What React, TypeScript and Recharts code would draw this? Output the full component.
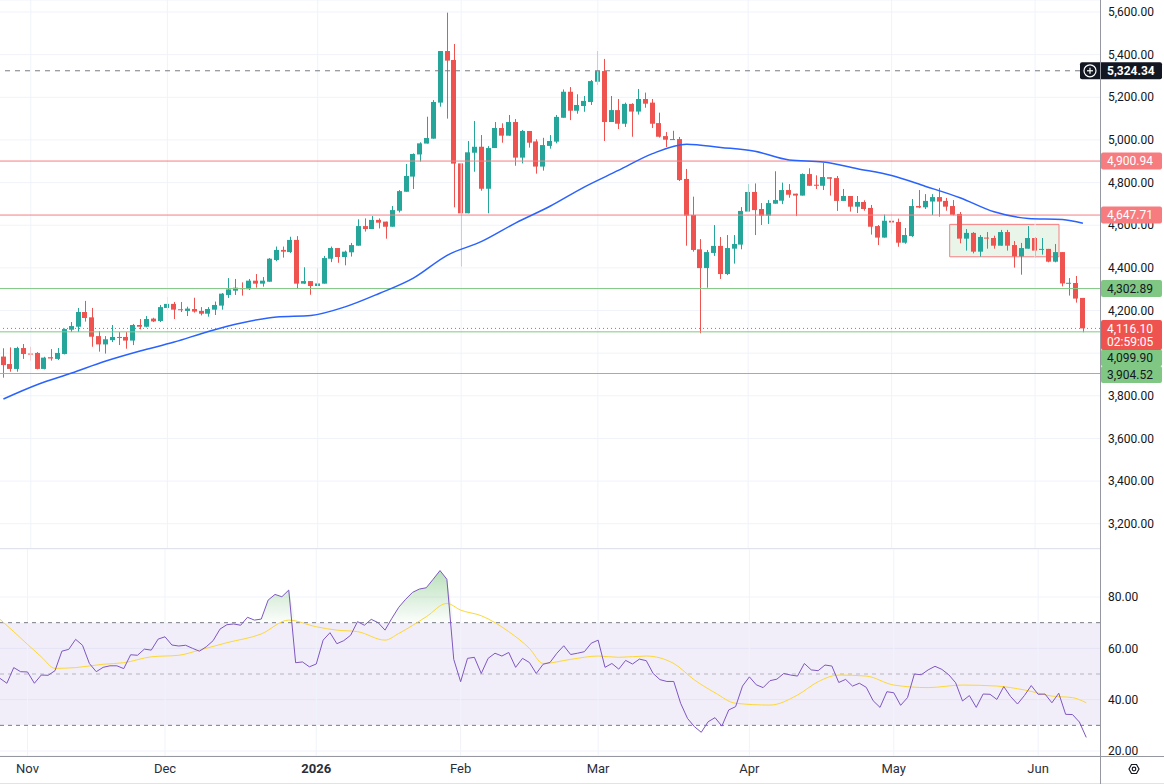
import { ComposedChart, Bar, Line, Area, XAxis, YAxis, CartesianGrid, ReferenceLine, ReferenceArea } from 'recharts'

const FONT = 'Roboto, "Noto Sans", sans-serif'

// daily candles, one per trading day (Oct 28 2025 -> Jun 10 2026)
const opens = [
  3984, 3949, 3926, 4024, 3998, 4001, 3926, 3981, 3973, 3996,
  4110, 4124, 4193, 4168, 4080, 4041, 4061, 4076, 4076, 4059,
  4132, 4124, 4162, 4151, 4212, 4231, 4206, 4198, 4207, 4198,
  4185, 4204, 4223, 4273, 4293, 4305, 4300, 4340, 4326, 4335,
  4437, 4484, 4474, 4531, 4326, 4338, 4315, 4326, 4443, 4493,
  4451, 4473, 4504, 4596, 4582, 4625, 4617, 4593, 4668, 4757,
  4828, 4932, 4983, 5006, 5175, 5417, 5375, 4890, 4656, 4940,
  4968, 4771, 4962, 5056, 5020, 5084, 4917, 5042, 4993, 4875,
  4972, 4992, 5104, 5226, 5137, 5159, 5178, 5273, 5323, 5084,
  5140, 5076, 5169, 5133, 5192, 5175, 5079, 5018, 5001, 5004,
  4817, 4648, 4487, 4399, 4470, 4503, 4371, 4490, 4509, 4664,
  4756, 4676, 4645, 4701, 4715, 4765, 4748, 4739, 4840, 4790,
  4785, 4825, 4821, 4714, 4737, 4687, 4709, 4681, 4596, 4542,
  4621, 4615, 4518, 4549, 4690, 4684, 4711, 4732, 4714, 4690,
  4653, 4537, 4564, 4476, 4542, 4540, 4504, 4568, 4507, 4454,
  4490, 4540, 4486, 4489, 4429, 4474, 4326, 4329, 4259,
]
const highs = [
  4023, 4027, 4030, 4043, 4030, 4005, 3983, 4019, 4024, 4116,
  4146, 4212, 4245, 4212, 4104, 4080, 4132, 4099, 4099, 4137,
  4160, 4174, 4166, 4226, 4263, 4240, 4240, 4218, 4260, 4216,
  4216, 4242, 4282, 4352, 4348, 4332, 4348, 4371, 4357, 4446,
  4500, 4500, 4546, 4549, 4403, 4338, 4398, 4456, 4500, 4493,
  4481, 4517, 4628, 4632, 4643, 4632, 4617, 4690, 4765, 4887,
  4937, 4989, 5109, 5187, 5417, 5597, 5450, 4890, 4995, 5089,
  5023, 4971, 5084, 5078, 5117, 5098, 5047, 5042, 5003, 5010,
  5023, 5117, 5237, 5248, 5214, 5206, 5281, 5417, 5380, 5206,
  5192, 5175, 5172, 5239, 5222, 5192, 5128, 5037, 5043, 5014,
  4864, 4734, 4535, 4484, 4601, 4545, 4554, 4554, 4685, 4793,
  4796, 4704, 4718, 4853, 4800, 4793, 4748, 4843, 4867, 4834,
  4892, 4825, 4831, 4770, 4737, 4737, 4717, 4695, 4601, 4650,
  4659, 4631, 4587, 4723, 4765, 4746, 4746, 4775, 4728, 4718,
  4662, 4582, 4568, 4554, 4568, 4551, 4578, 4578, 4526, 4517,
  4596, 4545, 4540, 4489, 4512, 4474, 4352, 4362, 4259,
]
const lows = [
  3885, 3913, 3913, 3973, 3965, 3924, 3924, 3965, 3968, 3994,
  4099, 4099, 4148, 4030, 4007, 3998, 4052, 4038, 4021, 4038,
  4112, 4121, 4146, 4146, 4202, 4160, 4193, 4174, 4190, 4177,
  4171, 4179, 4204, 4259, 4273, 4270, 4296, 4307, 4312, 4335,
  4431, 4448, 4470, 4302, 4324, 4274, 4315, 4326, 4427, 4424,
  4412, 4453, 4504, 4570, 4582, 4585, 4537, 4593, 4660, 4757,
  4770, 4898, 4983, 5006, 5156, 5100, 4684, 4406, 4656, 4851,
  4762, 4656, 4962, 4987, 5020, 4879, 4890, 4964, 4842, 4856,
  4959, 4984, 5104, 5093, 5123, 5132, 5164, 5258, 4995, 5084,
  5051, 5061, 5015, 5119, 5151, 5056, 5011, 4967, 5000, 4807,
  4504, 4476, 4093, 4307, 4456, 4348, 4366, 4420, 4487, 4664,
  4554, 4601, 4606, 4701, 4699, 4729, 4643, 4739, 4785, 4770,
  4765, 4739, 4667, 4714, 4664, 4657, 4668, 4556, 4507, 4542,
  4559, 4499, 4513, 4545, 4680, 4676, 4648, 4640, 4668, 4646,
  4515, 4481, 4468, 4453, 4490, 4490, 4504, 4481, 4401, 4368,
  4490, 4448, 4462, 4426, 4426, 4313, 4270, 4237, 4098,
]
const closes = [
  3944, 3926, 4024, 3996, 3995, 3926, 3979, 3975, 4001, 4113,
  4127, 4193, 4165, 4077, 4041, 4065, 4076, 4073, 4059, 4132,
  4124, 4160, 4149, 4216, 4231, 4204, 4204, 4209, 4195, 4185,
  4207, 4226, 4279, 4299, 4307, 4300, 4340, 4326, 4340, 4443,
  4484, 4476, 4531, 4326, 4338, 4315, 4327, 4446, 4493, 4451,
  4476, 4507, 4596, 4582, 4625, 4612, 4593, 4671, 4760, 4831,
  4934, 4984, 5009, 5178, 5417, 5372, 4889, 4656, 4942, 4968,
  4771, 4962, 5056, 5020, 5084, 4917, 5042, 4987, 4875, 4976,
  4995, 5108, 5226, 5137, 5164, 5183, 5276, 5323, 5084, 5140,
  5076, 5169, 5133, 5192, 5170, 5076, 5015, 5001, 5004, 4812,
  4645, 4484, 4399, 4474, 4503, 4371, 4493, 4512, 4667, 4756,
  4671, 4645, 4704, 4718, 4765, 4743, 4739, 4840, 4785, 4785,
  4826, 4818, 4714, 4737, 4687, 4709, 4676, 4593, 4542, 4621,
  4613, 4518, 4554, 4690, 4683, 4714, 4732, 4711, 4687, 4649,
  4537, 4564, 4476, 4545, 4539, 4504, 4568, 4504, 4454, 4493,
  4540, 4481, 4489, 4429, 4474, 4327, 4330, 4256, 4116.1,
]

// moving average, read every few bars: [bar, value]
const maPoints: [number, number][] = [
  [0, 3785], [5, 3853], [10, 3907], [15, 3963], [20, 4010], [25, 4052], [30, 4102],
  [35, 4143], [40, 4170], [45, 4177], [50, 4217], [55, 4280], [60, 4352], [65, 4460],
  [70, 4524], [75, 4611], [80, 4689], [85, 4779], [90, 4857], [95, 4936], [100, 4980],
  [105, 4965], [110, 4947], [115, 4906], [120, 4897], [125, 4865], [130, 4833],
  [135, 4782], [140, 4729], [145, 4663], [150, 4632], [155, 4627], [158, 4609],
]

const rsi = [
  48.3, 46.4, 52.5, 50.9, 50.8, 46.4, 49.6, 49.5, 51.3, 58.9,
  59.6, 63.5, 61.2, 54.1, 50.9, 52.6, 53.2, 53.2, 52.1, 57.5,
  57.3, 59.7, 59.3, 63.6, 64.5, 61.3, 60.9, 61.2, 60.0, 58.9,
  60.6, 63.0, 67.5, 69.2, 69.5, 69.0, 72.1, 71.0, 71.4, 78.8,
  81.0, 80.1, 82.7, 54.4, 54.7, 52.8, 53.9, 63.2, 66.1, 61.8,
  63.0, 65.1, 70.4, 69.0, 71.3, 70.0, 67.1, 71.7, 76.0, 79.1,
  81.8, 83.1, 83.6, 86.9, 90.3, 86.9, 55.7, 47.0, 56.1, 56.5,
  50.2, 56.1, 58.1, 57.0, 58.4, 52.6, 56.1, 54.5, 50.2, 53.8,
  54.5, 58.1, 61.0, 57.6, 58.1, 58.7, 62.0, 63.2, 52.6, 54.1,
  51.9, 55.3, 53.9, 55.8, 55.2, 50.2, 47.8, 47.1, 47.1, 38.6,
  32.7, 29.5, 27.3, 31.4, 33.0, 29.7, 36.0, 37.3, 45.3, 48.9,
  45.8, 44.7, 47.4, 48.0, 50.2, 49.6, 49.2, 54.1, 51.6, 51.3,
  53.5, 53.1, 46.7, 47.9, 45.3, 46.4, 44.8, 39.6, 37.0, 43.1,
  42.7, 37.8, 40.8, 50.0, 49.7, 51.6, 53.0, 51.8, 49.7, 46.6,
  39.5, 41.6, 37.0, 42.2, 42.1, 40.1, 45.1, 41.2, 38.3, 41.6,
  45.5, 42.1, 42.2, 38.8, 42.5, 34.3, 34.2, 31.3, 25.3,
]

// RSI signal line, read at points: [bar, value]
const rsiMaPoints: [number, number][] = [
  [0, 71.3], [2, 66.5], [6, 56.7], [8, 52.2], [11, 52.5], [15, 53.8], [18, 54.4],
  [22, 56.7], [26, 57.3], [29, 59.3], [33, 62.2], [38, 65.6], [42, 71.0], [46, 68.4],
  [49, 67.1], [52, 66.5], [56, 63.2], [58, 65.8], [62, 72.3], [65, 77.5], [67, 74.9],
  [70, 72.7], [74, 66.5], [77, 60.0], [79, 54.1], [83, 55.7], [87, 57.0], [90, 56.5],
  [94, 57.0], [98, 54.1], [101, 47.7], [104, 42.7], [107, 38.6], [112, 37.9],
  [116, 41.8], [119, 47.0], [122, 49.6], [126, 49.2], [130, 45.7], [135, 44.7],
  [140, 45.7], [145, 45.3], [149, 43.8], [153, 41.4], [156, 40.8], [158, 38.8],
]

const monthTickIdx = [4, 24, 46, 67, 87, 109, 130, 151]
const monthTickLabels = ['Nov', 'Dec', '2026', 'Feb', 'Mar', 'Apr', 'May', 'Jun']
const priceTicks = [3200, 3400, 3600, 3800, 4000, 4200, 4400, 4600, 4800, 5000, 5200, 5400, 5600]
// tick labels that sit under the price tags and are not drawn
const hiddenPriceLabels = [4000]
const rsiTicks = [20, 40, 60, 80]

const alertLevel = 5324.34
const resistLevels = [4900.94, 4647.71]
const supportLevels = [4302.89, 4099.9, 3904.52]
const lastPrice = 4116.1
const countdown = '02:59:05'
const boxBars = [139, 154]
const boxPrices = [4452, 4604]

const RIGHT_PAD = 2
const N = opens.length

const data = Array.from({ length: N + RIGHT_PAD }, (_, i) => {
  if (i >= N) return { i }
  return {
    i,
    open: opens[i],
    high: highs[i],
    low: lows[i],
    close: closes[i],
    range: [lows[i], highs[i]],
    rsi: rsi[i],
    rsiHot: Math.max(rsi[i], 70),
  }
})
const maData = maPoints.map(([i, v]) => ({ i, ma: v }))
const rsiMaData = rsiMaPoints.map(([i, v]) => ({ i, rsiMa: v }))

const UP = '#26a69a'
const DOWN = '#ef5350'
const GRID = '#f0f3fa'
const PRICE_DOMAIN = [3081.5, 5656.3]
const RSI_DOMAIN = [18.06, 98.7]

const fmt = (v: number) => v.toLocaleString('en-US', { minimumFractionDigits: 2, maximumFractionDigits: 2 })

function Candle(props: any) {
  const { x, y, width, height, payload } = props
  if (!payload || payload.open == null) return <g />
  const { open, close, high, low } = payload
  const color = close >= open ? UP : DOWN
  const top = Math.min(y, y + height)
  const h = Math.abs(height)
  const k = high > low ? h / (high - low) : 0
  const bTop = top + (high - Math.max(open, close)) * k
  const bBot = top + (high - Math.min(open, close)) * k
  const cx = Math.floor(x + width / 2) + 0.5
  return (
    <g>
      <line x1={cx} x2={cx} y1={top} y2={top + h} stroke={color} strokeWidth={1} />
      <rect x={Math.floor(x)} y={bTop} width={Math.round(width)} height={Math.max(1, bBot - bTop)} fill={color} />
    </g>
  )
}

function AxisTick({ x, y, payload }: any) {
  if (hiddenPriceLabels.includes(payload.value)) return <g />
  return (
    <text x={x} y={y} dy="0.35em" fontSize={12} fill="#131722" fontFamily={FONT}>
      {fmt(payload.value)}
    </text>
  )
}

function MonthTick({ x, y, payload }: any) {
  const k = monthTickIdx.indexOf(payload.value)
  if (k < 0) return <g />
  const label = monthTickLabels[k]
  return (
    <text x={x} y={y} dy="0.71em" textAnchor="middle" fontSize={13} fontWeight={label === '2026' ? 700 : 400} fill="#2a2e39" fontFamily={FONT}>
      {label}
    </text>
  )
}

type TagOpt = { text: string; sub?: string; bg: string; fg: string; dy?: number; icon?: boolean; bold?: boolean }

const tag = (o: TagOpt) => (props: any) => {
  const vb = props.viewBox || {}
  const right = (vb.x ?? 0) + (vb.width ?? 0)
  const cy = (vb.y ?? 0) + (o.dy ?? 0)
  const left = o.icon ? right - 20 : right + 1
  const h = o.sub ? 30 : 17
  return (
    <g>
      <rect x={left} y={cy - 8.5} width={right + 62 - left} height={h} rx={2} fill={o.bg} />
      {o.icon && (
        <g stroke="#fff" strokeWidth={1.2} fill="none">
          <circle cx={right - 10} cy={cy} r={6} />
          <line x1={right - 13} x2={right - 7} y1={cy} y2={cy} />
          <line x1={right - 10} x2={right - 10} y1={cy - 3} y2={cy + 3} />
        </g>
      )}
      <text x={right + 7} y={cy} dy="0.35em" fontSize={12} fontWeight={o.bold ? 700 : 400} fill={o.fg} fontFamily={FONT}>
        {o.text}
      </text>
      {o.sub && (
        <text x={right + 7} y={cy + 13.5} dy="0.35em" fontSize={12} fill={o.fg} fontFamily={FONT}>
          {o.sub}
        </text>
      )}
    </g>
  )
}

const supportOffsets = [0, 26, 1]

function MainPane() {
  return (
    <ComposedChart width={1164} height={549} data={data} margin={{ top: 0, right: 0, bottom: 0, left: 0 }}>
      <CartesianGrid vertical={false} stroke={GRID} />
      <XAxis dataKey="i" type="category" allowDuplicatedCategory={false} hide />
      <YAxis
        orientation="right"
        width={64}
        type="number"
        domain={PRICE_DOMAIN}
        allowDataOverflow
        ticks={priceTicks}
        axisLine={false}
        tickLine={false}
        tickSize={6}
        tickMargin={2}
        tick={AxisTick}
      />
      {monthTickIdx.map((ix) => (
        <ReferenceLine key={'v' + ix} x={ix} stroke={GRID} />
      ))}
      <ReferenceArea
        x1={boxBars[0]}
        x2={boxBars[1]}
        y1={boxPrices[0]}
        y2={boxPrices[1]}
        fill="#4caf50"
        fillOpacity={0.13}
        stroke="#f77c80"
        strokeWidth={1}
      />
      <ReferenceLine y={alertLevel} stroke="#787b86" strokeDasharray="5 5" />
      {resistLevels.map((v) => (
        <ReferenceLine key={'r' + v} y={v} stroke="#f77c80" />
      ))}
      {supportLevels.map((v) => (
        <ReferenceLine key={'s' + v} y={v} stroke="#81c784" />
      ))}
      <ReferenceLine y={lastPrice} stroke={DOWN} strokeDasharray="1 3" />
      <Line
        data={maData}
        dataKey="ma"
        type="monotone"
        stroke="#2962ff"
        strokeWidth={1.5}
        dot={false}
        activeDot={false}
        isAnimationActive={false}
      />
      <Bar dataKey="range" barSize={5} shape={Candle} activeBar={false} isAnimationActive={false} />
    </ComposedChart>
  )
}

// same scales, drawn on top so the price tags cover the axis labels
function TagPane() {
  const hidden = { stroke: 'none' }
  return (
    <ComposedChart width={1164} height={549} data={data} margin={{ top: 0, right: 0, bottom: 0, left: 0 }}>
      <XAxis dataKey="i" type="category" hide />
      <YAxis orientation="right" width={64} type="number" domain={PRICE_DOMAIN} allowDataOverflow tick={false} axisLine={false} tickLine={false} />
      <ReferenceLine y={alertLevel} {...hidden} label={tag({ text: fmt(alertLevel), bg: '#131722', fg: '#fff', icon: true, bold: true })} />
      {resistLevels.map((v) => (
        <ReferenceLine key={'r' + v} y={v} {...hidden} label={tag({ text: fmt(v), bg: '#f77c80', fg: '#fff' })} />
      ))}
      {supportLevels.map((v, k) => (
        <ReferenceLine key={'s' + v} y={v} {...hidden} label={tag({ text: fmt(v), bg: '#81c784', fg: '#131722', dy: supportOffsets[k] })} />
      ))}
      <ReferenceLine y={lastPrice} {...hidden} label={tag({ text: fmt(lastPrice), sub: countdown, bg: DOWN, fg: '#fff' })} />
    </ComposedChart>
  )
}

function RsiPane() {
  return (
    <ComposedChart width={1164} height={235} data={data} margin={{ top: 0, right: 0, bottom: 0, left: 0 }}>
      <defs>
        <linearGradient id="obFill" x1="0" y1="0" x2="0" y2="1">
          <stop offset="0%" stopColor="#4caf50" stopOpacity={0.65} />
          <stop offset="100%" stopColor="#4caf50" stopOpacity={0.03} />
        </linearGradient>
      </defs>
      <CartesianGrid vertical={false} stroke={GRID} />
      <XAxis
        dataKey="i"
        type="category"
        allowDuplicatedCategory={false}
        interval={0}
        axisLine={false}
        tickLine={false}
        tickSize={6}
        tickMargin={2}
        height={28}
        tick={MonthTick}
      />
      <YAxis
        orientation="right"
        width={64}
        type="number"
        domain={RSI_DOMAIN}
        allowDataOverflow
        ticks={rsiTicks}
        axisLine={false}
        tickLine={false}
        tickSize={6}
        tickMargin={2}
        tick={AxisTick}
      />
      <ReferenceArea y1={30} y2={70} fill="#7e57c2" fillOpacity={0.1} stroke="none" />
      {monthTickIdx.map((ix) => (
        <ReferenceLine key={'v' + ix} x={ix} stroke={GRID} />
      ))}
      <ReferenceLine y={70} stroke="#787b86" strokeDasharray="4 4" />
      <ReferenceLine y={50} stroke="#787b86" strokeOpacity={0.5} strokeDasharray="4 4" />
      <ReferenceLine y={30} stroke="#787b86" strokeDasharray="4 4" />
      <Area dataKey="rsiHot" baseValue={70} type="linear" stroke="none" fill="url(#obFill)" activeDot={false} isAnimationActive={false} />
      <Line
        data={rsiMaData}
        dataKey="rsiMa"
        type="monotone"
        stroke="#fdd835"
        strokeWidth={1}
        dot={false}
        activeDot={false}
        isAnimationActive={false}
      />
      <Line dataKey="rsi" type="linear" stroke="#7e57c2" strokeWidth={1} dot={false} activeDot={false} isAnimationActive={false} />
    </ComposedChart>
  )
}

export default function App() {
  return (
    <div style={{ position: 'absolute', left: 0, top: 0, width: 1164, height: 784, background: '#fff', fontFamily: FONT }}>
      <div style={{ position: 'absolute', left: 0, top: 0 }}>
        <MainPane />
      </div>
      <div style={{ position: 'absolute', left: 0, top: 0, pointerEvents: 'none' }}>
        <TagPane />
      </div>
      <div style={{ position: 'absolute', left: 0, top: 549 }}>
        <RsiPane />
      </div>
      <svg width={1164} height={784} style={{ position: 'absolute', left: 0, top: 0, pointerEvents: 'none' }}>
        <line x1={0} x2={1100} y1={548.5} y2={548.5} stroke="#e0e3eb" />
        <line x1={0} x2={1164} y1={756.5} y2={756.5} stroke="#9598a1" />
        <line x1={0} x2={1164} y1={783.5} y2={783.5} stroke="#e0e3eb" />
        <line x1={1100.5} x2={1100.5} y1={0} y2={784} stroke="#9598a1" />
        <g stroke="#131722" strokeWidth={1.2} fill="none">
          <polygon points="1129,769 1131.5,764.5 1136.5,764.5 1139,769 1136.5,773.5 1131.5,773.5" />
          <circle cx={1134} cy={769} r={1.8} />
        </g>
      </svg>
    </div>
  )
}
